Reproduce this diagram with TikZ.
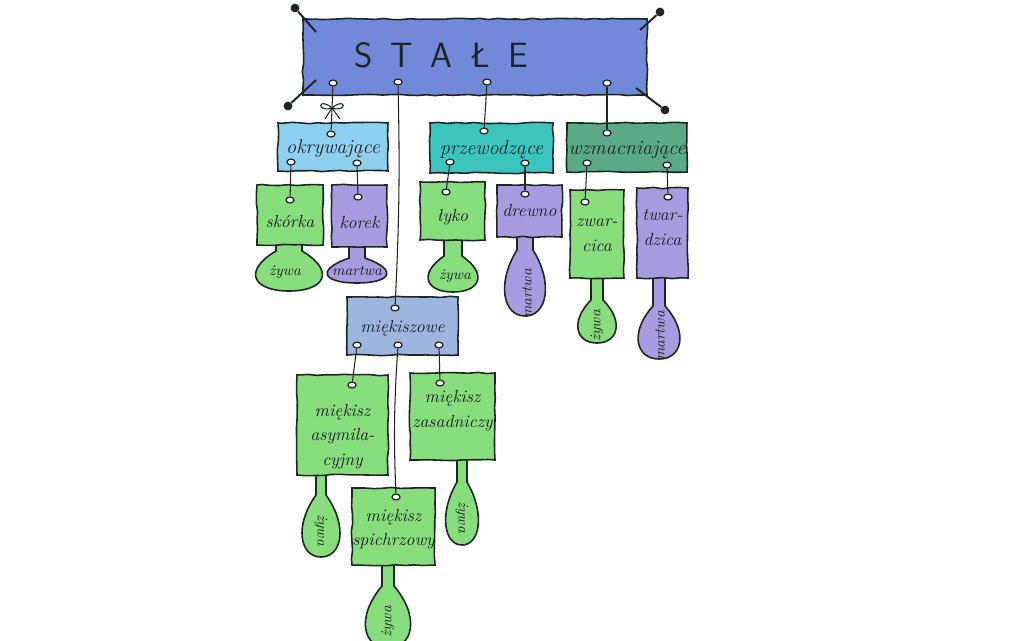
\documentclass[tikz,border=0pt]{standalone}
\usepackage{fontspec}
\usepackage{xcolor}
\usepackage{tikz}
\usetikzlibrary{shapes.geometric,fit}
\usetikzlibrary{decorations.pathmorphing}

\definecolor{bannerblue}{HTML}{7089D9}
\definecolor{skyblue}{HTML}{8ED0F0}
\definecolor{tealc}{HTML}{3CC4BF}
\definecolor{seagreen}{HTML}{5BAA86}
\definecolor{leafgreen}{HTML}{88DD7C}
\definecolor{lilac}{HTML}{A99BE0}
\definecolor{paleblue}{HTML}{9DB5DF}
\definecolor{inkc}{HTML}{1C2622}

% colour, x, top, neck end, bottom, half width, neck half width
\newcommand{\tagdrop}[7]{%
  \draw[drop, fill=#1] (#2-#7,#3) -- (#2-#7,#4)
    .. controls (#2-1.3*#6,{(#4+#5)/2}) and (#2-#6,#5) .. (#2,#5)
    .. controls (#2+#6,#5) and (#2+1.3*#6,{(#4+#5)/2}) .. (#2+#7,#4)
    -- (#2+#7,#3);}

\begin{document}
\pgfmathsetseed{11}
\begin{tikzpicture}[x=0.02cm, y=-0.02cm,
    tagbox/.style={draw=inkc, line width=0.9pt, inner sep=0pt, align=center,
      text=inkc, font=\fontsize{10}{14}\selectfont\itshape,
      decorate, decoration={random steps, segment length=5pt, amplitude=0.4pt}},
    headbox/.style={tagbox, font=\fontsize{11.5}{14}\selectfont\itshape},
    drop/.style={draw=inkc, line width=0.9pt},
    droptext/.style={text=inkc, font=\fontsize{8.5}{10}\selectfont\itshape, inner sep=0pt},
    hole/.style={ellipse, draw=inkc, fill=white, line width=0.7pt, inner sep=0pt,
      minimum width=4.6pt, minimum height=3.4pt},
    string/.style={draw=inkc, line width=0.6pt},
    tack/.style={circle, fill=inkc, inner sep=0pt, minimum size=5pt}]
    \clip (0,0) rectangle (1024,640);
    \fill[white] (0,0) rectangle (1024,640);

    % drops under the tags
    \tagdrop{leafgreen}{289}{241}{251}{291}{36}{13}
    \tagdrop{lilac}{357}{243}{258}{283}{33}{8}
    \tagdrop{leafgreen}{453}{236}{256}{292}{27}{9}
    \tagdrop{lilac}{525}{234}{250}{316}{22}{8}
    \tagdrop{leafgreen}{597}{275}{300}{343}{21}{6}
    \tagdrop{lilac}{659}{274}{306}{359}{23}{6}
    \tagdrop{leafgreen}{321}{472}{495}{557}{21}{5}
    \tagdrop{leafgreen}{462}{457}{482}{545}{18}{5}
    \tagdrop{leafgreen}{388}{562}{586}{648}{25}{6}

    \node[droptext] (d-skorka) at (285,272) {żywa};
    \node[droptext] (d-korek) at (357,271) {martwa};
    \node[droptext] (d-lyko) at (455,276) {żywa};
    \node[droptext, rotate=90] (d-drewno) at (527,294) {martwa};
    \node[droptext, rotate=90] (d-zwar) at (597,326) {żywa};
    \node[droptext, rotate=90] (d-twar) at (660,336) {martwa};
    \node[droptext, rotate=-90] (d-asym) at (321,530) {żywa};
    \node[droptext, rotate=-90] (d-zasad) at (462,517) {żywa};
    \node[droptext, rotate=90] (d-spich) at (388,622) {żywa};

    % banner
    \node[tagbox, fill=bannerblue, fit={(303,19) (647,95)}] (stale) {};
    \node[text=inkc, font=\fontsize{20}{24}\selectfont\sffamily] (title) at (441,55)
      {S\hspace{10pt}T\hspace{10pt}A\hspace{10pt}Ł\hspace{10pt}E};

    % tags
    \node[headbox, fill=skyblue, fit={(278,123) (388,171)}] (okryw) {\\[-4pt]okrywające};
    \node[headbox, fill=tealc, fit={(430,123) (553,173)}] (przew) {\\[-4pt]przewodzące};
    \node[headbox, fill=seagreen, fit={(567,123) (687,172)}] (wzmac) {\\[-4pt]wzmacniające};
    \node[tagbox, fill=leafgreen, fit={(257,185) (323,245)}] (skorka) {\\[0pt]skórka};
    \node[tagbox, fill=lilac, fit={(332,185) (387,247)}] (korek) {\\[0pt]korek};
    \node[tagbox, fill=leafgreen, fit={(420,182) (485,240)}] (lyko) {\\łyko\hspace{12pt}};
    \node[tagbox, fill=lilac, fit={(497,185) (562,237)}] (drewno) {\\[-8pt]drewno};
    \node[tagbox, fill=leafgreen, fit={(570,190) (624,278)}] (zwarcica) {\\[-8pt]zwar-\\cica};
    \node[tagbox, fill=lilac, fit={(637,188) (688,278)}] (twardzica) {twar-\\dzica\\[4pt]};
    \node[tagbox, fill=paleblue, fit={(347,297) (458,355)}] (miekisz) {\\[-5pt]miękiszowe};
    \node[tagbox, fill=leafgreen, align=left, fit={(297,375) (388,475)}] (asymil) {\\[6pt]miękisz\\asymila-\\cyjny};
    \node[tagbox, fill=leafgreen, fit={(410,373) (495,460)}] (zasad) {miękisz\\zasadniczy};
    \node[tagbox, fill=leafgreen, fit={(352,488) (435,565)}] (spichrz) {\\[-4pt]miękisz\\spichrzowy};

    % holes
    \node[hole] (h-b1) at (333,83) {};
    \node[hole] (h-b2) at (398,82) {};
    \node[hole] (h-b3) at (487,82) {};
    \node[hole] (h-b4) at (607,83) {};
    \node[hole] (h-okryw) at (331,134) {};
    \node[hole] (h-okryw-l) at (291,162) {};
    \node[hole] (h-okryw-r) at (357,163) {};
    \node[hole] (h-przew) at (484,131) {};
    \node[hole] (h-przew-l) at (450,162) {};
    \node[hole] (h-przew-r) at (525,163) {};
    \node[hole] (h-wzmac) at (607,133) {};
    \node[hole] (h-wzmac-l) at (587,163) {};
    \node[hole] (h-wzmac-r) at (667,165) {};
    \node[hole] (h-skorka) at (290,200) {};
    \node[hole] (h-korek) at (358,197) {};
    \node[hole] (h-lyko) at (446,192) {};
    \node[hole] (h-drewno) at (525,194) {};
    \node[hole] (h-zwarcica) at (585,202) {};
    \node[hole] (h-twardzica) at (668,197) {};
    \node[hole] (h-miekisz) at (395,308) {};
    \node[hole] (h-miekisz-l) at (357,345) {};
    \node[hole] (h-miekisz-m) at (398,345) {};
    \node[hole] (h-miekisz-r) at (439,345) {};
    \node[hole] (h-asymil) at (352,385) {};
    \node[hole] (h-zasad) at (440,383) {};
    \node[hole] (h-spichrz) at (396,497) {};

    % strings
    \draw[string] (h-b1) -- (h-okryw);
    \draw[string] (h-b2) to[bend left=2] (h-miekisz);
    \draw[string] (h-b3) -- (h-przew);
    \draw[string] (h-b4) -- (h-wzmac);
    \draw[string] (h-okryw-l) -- (h-skorka);
    \draw[string] (h-okryw-r) -- (h-korek);
    \draw[string] (h-przew-l) -- (h-lyko);
    \draw[string] (h-przew-r) -- (h-drewno);
    \draw[string] (h-wzmac-l) -- (h-zwarcica);
    \draw[string] (h-wzmac-r) -- (h-twardzica);
    \draw[string] (h-miekisz-l) -- (h-asymil);
    \draw[string] (h-miekisz-m) to[bend right=3] (h-spichrz);
    \draw[string] (h-miekisz-r) -- (h-zasad);

    % bow on the first string
    \coordinate (bow) at (332,108);
    \draw[string] (bow) .. controls (318,96) and (316,113) .. (bow)
      .. controls (346,96) and (348,113) .. (bow);
    \draw[string] (bow) -- (325,119);
    \draw[string] (bow) -- (340,119);

    % pins at the banner corners
    \node[tack] (t1) at (295,8) {};
    \node[tack] (t2) at (660,12) {};
    \node[tack] (t3) at (288,106) {};
    \node[tack] (t4) at (665,110) {};
    \coordinate (c1) at (316,32);
    \coordinate (c2) at (640,30);
    \coordinate (c3) at (316,80);
    \coordinate (c4) at (636,88);
    \draw[inkc, line width=1.1pt] (t1) -- (c1);
    \draw[inkc, line width=1.1pt] (t2) -- (c2);
    \draw[inkc, line width=1.1pt] (t3) -- (c3);
    \draw[inkc, line width=1.1pt] (t4) -- (c4);
  \end{tikzpicture}
\end{document}
